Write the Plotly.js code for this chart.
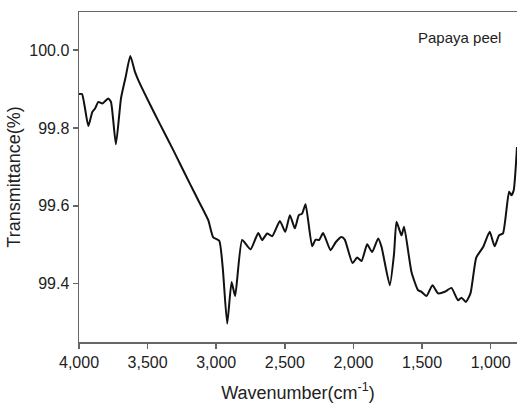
<!DOCTYPE html>
<html>
<head>
<meta charset="utf-8">
<script src="https://cdn.plot.ly/plotly-3.0.1.min.js"></script>
<style>html,body{margin:0;padding:0;background:#fff;}#chart{width:518px;height:405px;}</style>
</head>
<body>
<div id="chart"></div>
<script>
var wavenumber = [4000,3978,3932,3903,3883,3859,3830,3787,3767,3731,3694,3660,3626,3592,3568,3483,3410,3313,3264,3192,3119,3058,3022,2978,2953,2920,2888,2862,2811,2750,2694,2665,2629,2592,2536,2497,2463,2427,2398,2374,2349,2301,2276,2250,2221,2167,2128,2087,2063,2007,1973,1941,1900,1864,1820,1795,1735,1704,1686,1650,1631,1577,1529,1504,1468,1424,1383,1334,1286,1238,1213,1181,1147,1105,1055,1007,971,939,910,866,849,832,808];
var transmittance = [99.887,99.887,99.805,99.841,99.850,99.867,99.863,99.876,99.867,99.758,99.876,99.931,99.985,99.944,99.923,99.861,99.810,99.743,99.708,99.657,99.606,99.563,99.519,99.510,99.443,99.297,99.404,99.368,99.512,99.488,99.530,99.512,99.529,99.522,99.561,99.533,99.576,99.542,99.576,99.580,99.604,99.496,99.513,99.512,99.530,99.486,99.507,99.520,99.513,99.453,99.467,99.458,99.501,99.481,99.516,99.494,99.396,99.477,99.559,99.524,99.546,99.430,99.383,99.379,99.368,99.396,99.375,99.379,99.389,99.357,99.364,99.353,99.375,99.467,99.494,99.533,99.496,99.524,99.529,99.636,99.627,99.640,99.751];
var xTicks = [4000,3500,3000,2500,2000,1500,1000];
var xTickLabels = ["4,000","3,500","3,000","2,500","2,000","1,500","1,000"];
var yTicks = [99.4,99.6,99.8,100.0];
var yTickLabels = ["99.4","99.6","99.8","100.0"];
var sampleLabel = "Papaya peel";

var trace = {
  x: wavenumber, y: transmittance, type: 'scatter', mode: 'lines',
  line: {color: '#111', width: 2, shape: 'spline', smoothing: 0.5},
  hoverinfo: 'skip'
};
var fam = 'Liberation Sans, Arial, sans-serif';
var axisFont = {family: fam, size: 16, color: '#222'};
var layout = {
  width: 518, height: 405,
  margin: {l: 79, r: 1, t: 12, b: 63},
  paper_bgcolor: '#fff', plot_bgcolor: '#fff',
  showlegend: false,
  font: axisFont,
  xaxis: {
    range: [4000, 808], autorange: false,
    tickvals: xTicks, ticktext: xTickLabels,
    ticks: 'outside', ticklen: 5, tickcolor: '#666', tickwidth: 1.5,
    showline: true, linecolor: '#666', linewidth: 1.5, mirror: true,
    showgrid: false, zeroline: false,
    tickfont: axisFont,
    title: {text: 'Wavenumber(cm<sup>-1</sup>)', font: {family: fam, size: 18, color: '#222'}, standoff: 16}
  },
  yaxis: {
    range: [99.25, 100.098], autorange: false,
    tickvals: yTicks, ticktext: yTickLabels,
    ticks: 'outside', ticklen: 5, tickcolor: '#666', tickwidth: 1.5,
    showline: true, linecolor: '#666', linewidth: 1.5,
    showgrid: false, zeroline: false,
    tickfont: axisFont,
    title: {text: 'Transmittance(%)', font: {family: fam, size: 18, color: '#222'}, standoff: 4}
  },
  annotations: [{
    text: sampleLabel, xref: 'paper', yref: 'paper', x: 0.968, y: 0.923,
    xanchor: 'right', yanchor: 'middle', showarrow: false,
    font: {family: fam, size: 15, color: '#222'}
  }]
};
Plotly.newPlot('chart', [trace], layout, {staticPlot: true, displayModeBar: false});
</script>
</body>
</html>
